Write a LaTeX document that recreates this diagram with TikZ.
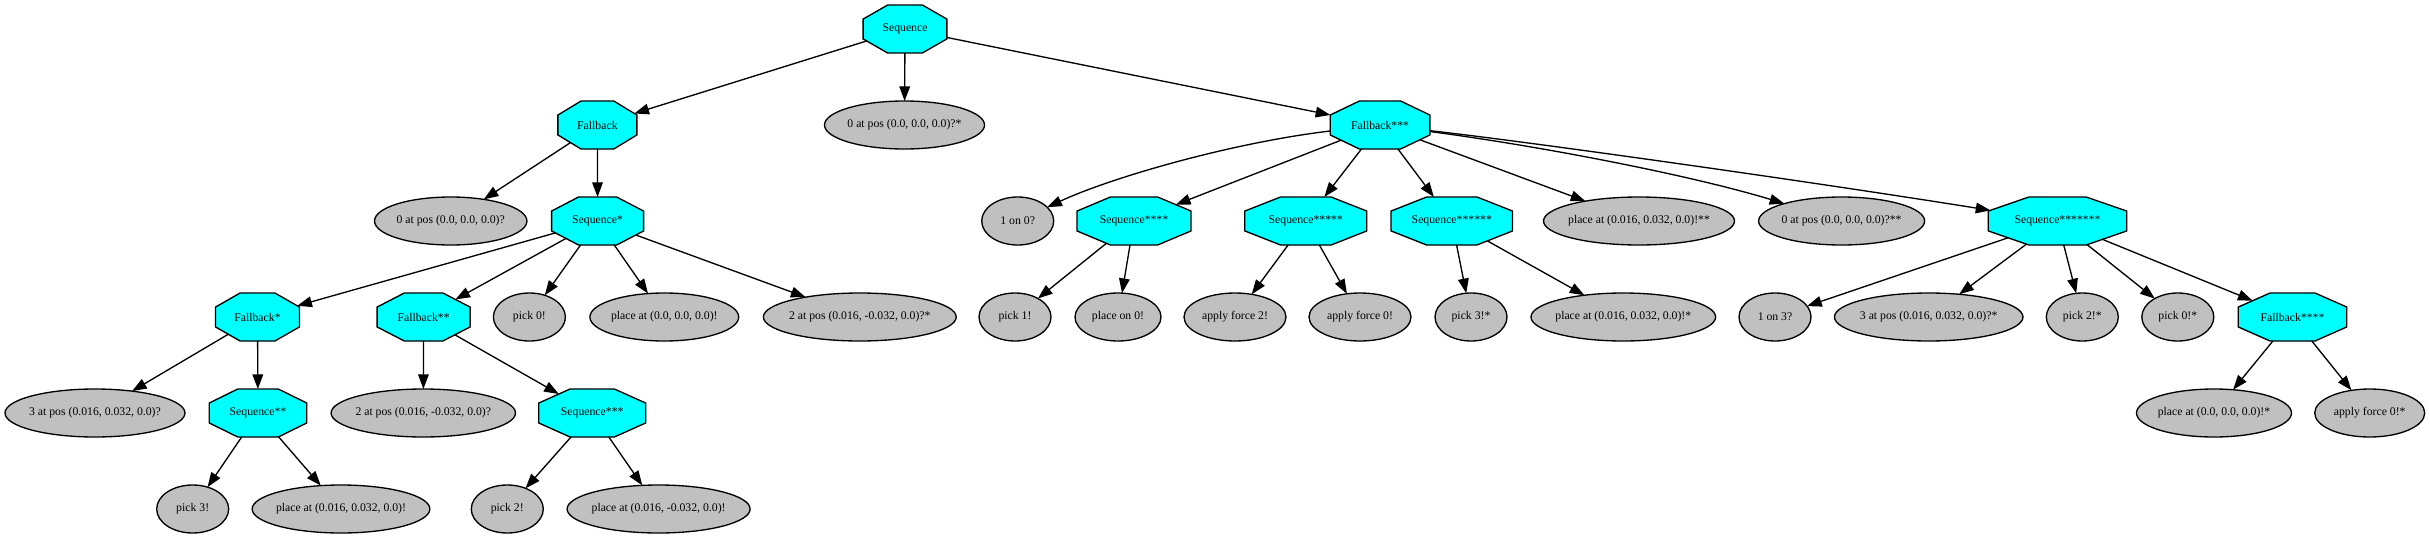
\documentclass[tikz,border=0pt]{standalone}
\usepackage{fontspec}
\setmainfont{Liberation Serif}
\usetikzlibrary{shapes.geometric,arrows.meta}
\definecolor{nodecyan}{RGB}{0,255,255}
\definecolor{nodegray}{RGB}{192,192,192}
\tikzset{
  lblfont/.style={font=\fontsize{8.8}{10}\selectfont},
  octbox/.style={regular polygon, regular polygon sides=8, draw=black, fill=nodecyan,
    line width=1pt, minimum size=38.966pt, inner sep=0pt, outer sep=0pt, lblfont},
  ellbox/.style={ellipse, draw=black, fill=nodegray, line width=1pt,
    minimum height=36pt, inner sep=0pt, outer sep=0pt, lblfont},
  conn/.style={line width=1pt, draw=black, -{Triangle[length=11pt,width=8pt]}},
}
\newcommand\octnode[5]{%
  \begin{scope}[shift={(#2,#3)}]
    \pgfmathsetmacro\octinv{48/#4}%
    \node[octbox, xscale=#4/48] (#1) at (0,0) {\makebox[0pt]{\scalebox{\octinv}[1]{#5}}};
  \end{scope}}
\newcommand\ellnode[5]{%
  \node[ellbox, minimum width=#4*0.75pt] (#1) at (#2,#3) {\makebox[0pt]{#5}};}
\begin{document}
\begin{tikzpicture}[x=0.75pt,y=-0.75pt]
\useasboundingbox[fill=white] (0,0) rectangle (2430,539);
% level 0
\octnode{seq}{905}{29}{83.7}{Sequence}
% level 1
\octnode{fb}{597.4}{125}{79}{Fallback}
\ellnode{posA}{904.5}{125}{160}{0 at pos (0.0, 0.0, 0.0)?*}
\octnode{fbC}{1380}{125}{99.7}{Fallback***}
% level 2
\ellnode{posB}{450.7}{221}{152.4}{0 at pos (0.0, 0.0, 0.0)?}
\octnode{seqA}{597.6}{221}{92}{Sequence*}
\ellnode{onA}{1017.7}{221}{72}{1 on 0?}
\octnode{seqD}{1134}{221}{114}{Sequence****}
\octnode{seqE}{1305.8}{221}{122}{Sequence*****}
\octnode{seqF}{1451.8}{221}{121.5}{Sequence******}
\ellnode{placeF}{1639}{221}{191}{place at (0.016, 0.032, 0.0)!**}
\ellnode{posC}{1841.6}{221}{166}{0 at pos (0.0, 0.0, 0.0)?**}
\octnode{seqG}{2057.5}{221}{138.4}{Sequence*******}
% level 3
\octnode{fbA}{257.5}{317}{84}{Fallback*}
\octnode{fbB}{423.6}{317}{93}{Fallback**}
\ellnode{pickA}{529.4}{317}{72}{pick 0!}
\ellnode{placeA}{664.3}{317}{148.8}{place at (0.0, 0.0, 0.0)!}
\ellnode{posD}{859.8}{317}{192.8}{2 at pos (0.016, -0.032, 0.0)?*}
\ellnode{pickB}{1015}{317}{72}{pick 1!}
\ellnode{placeB}{1118}{317}{86}{place on 0!}
\ellnode{forceA}{1235}{317}{102}{apply force 2!}
\ellnode{forceB}{1360}{317}{102}{apply force 0!}
\ellnode{pickC}{1471}{317}{72}{pick 3!*}
\ellnode{placeC}{1623.3}{317}{184.6}{place at (0.016, 0.032, 0.0)!*}
\ellnode{onB}{1775}{317}{72}{1 on 3?}
\ellnode{posE}{1928.7}{317}{188.5}{3 at pos (0.016, 0.032, 0.0)?*}
\ellnode{pickD}{2082.3}{317}{72}{pick 2!*}
\ellnode{pickE}{2177.8}{317}{72}{pick 0!*}
\octnode{fbD}{2292.5}{317}{108.5}{Fallback****}
% level 4
\ellnode{posF}{95}{413}{180}{3 at pos (0.016, 0.032, 0.0)?}
\octnode{seqB}{258}{413}{97.6}{Sequence**}
\ellnode{posG}{423.3}{413}{184.4}{2 at pos (0.016, -0.032, 0.0)?}
\octnode{seqC}{592.2}{413}{107}{Sequence***}
\ellnode{placeD}{2214}{413}{155}{place at (0.0, 0.0, 0.0)!*}
\ellnode{forceC}{2369.7}{413}{110}{apply force 0!*}
% level 5
\ellnode{pickF}{192.7}{509}{72}{pick 3!}
\ellnode{placeE}{341}{509}{177.7}{place at (0.016, 0.032, 0.0)!}
\ellnode{pickG}{507.3}{509}{72}{pick 2!}
\ellnode{placeG}{658.6}{509}{183}{place at (0.016, -0.032, 0.0)!}
% edges
\draw[conn] (seq) -- (fb);
\draw[conn] (seq) -- (posA);
\draw[conn] (seq) -- (fbC);
\draw[conn] (fb) -- (posB);
\draw[conn] (fb) -- (seqA);
\draw[conn] (seqA) -- (fbA);
\draw[conn] (seqA) -- (fbB);
\draw[conn] (seqA) -- (pickA);
\draw[conn] (seqA) -- (placeA);
\draw[conn] (seqA) -- (posD);
\draw[conn] (fbA) -- (posF);
\draw[conn] (fbA) -- (seqB);
\draw[conn] (seqB) -- (pickF);
\draw[conn] (seqB) -- (placeE);
\draw[conn] (fbB) -- (posG);
\draw[conn] (fbB) -- (seqC);
\draw[conn] (seqC) -- (pickG);
\draw[conn] (seqC) -- (placeG);
\draw[conn] (fbC) .. controls (1230,143) and (1110,178) .. (onA);
\draw[conn] (fbC) -- (seqD);
\draw[conn] (fbC) -- (seqE);
\draw[conn] (fbC) -- (seqF);
\draw[conn] (fbC) -- (placeF);
\draw[conn] (fbC) .. controls (1540,146) and (1690,175) .. (posC);
\draw[conn] (fbC) .. controls (1530,142) and (1800,180) .. (seqG);
\draw[conn] (seqD) -- (pickB);
\draw[conn] (seqD) -- (placeB);
\draw[conn] (seqE) -- (forceA);
\draw[conn] (seqE) -- (forceB);
\draw[conn] (seqF) -- (pickC);
\draw[conn] (seqF) -- (placeC);
\draw[conn] (seqG) -- (onB);
\draw[conn] (seqG) -- (posE);
\draw[conn] (seqG) -- (pickD);
\draw[conn] (seqG) -- (pickE);
\draw[conn] (seqG) -- (fbD);
\draw[conn] (fbD) -- (placeD);
\draw[conn] (fbD) -- (forceC);
\end{tikzpicture}
\end{document}
